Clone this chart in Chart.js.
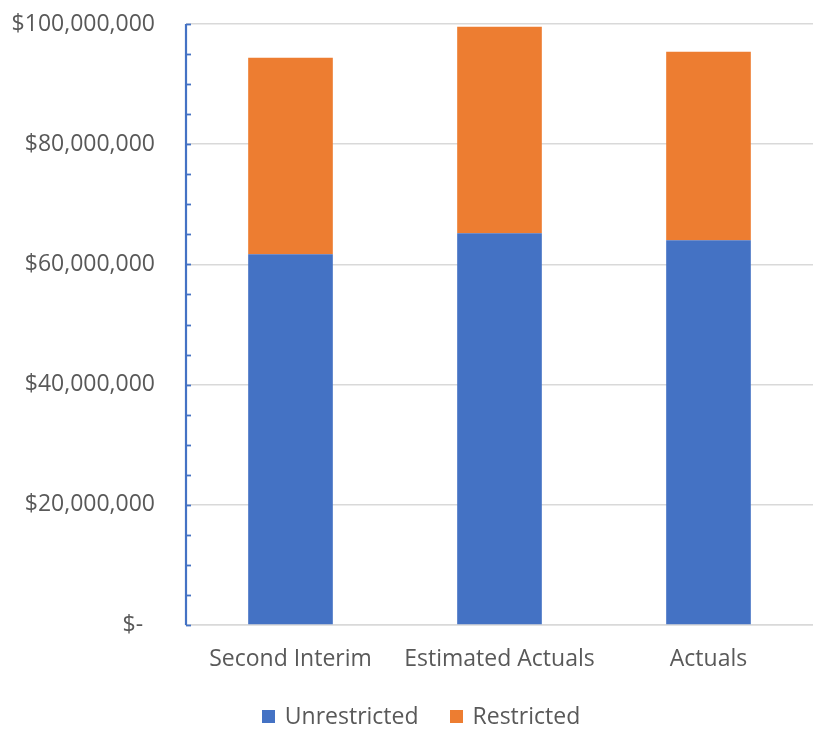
<!DOCTYPE html>
<html>
<head>
<meta charset="utf-8">
<script src="https://cdn.jsdelivr.net/npm/chart.js@4"></script>
<style>
  html, body { margin: 0; padding: 0; background: #ffffff; }
  #wrap { width: 813px; height: 735px; position: relative; }
</style>
</head>
<body>
<div id="wrap"><canvas id="chart"></canvas></div>
<script>
// Funding by source, in dollars
const categories = ['Second Interim', 'Estimated Actuals', 'Actuals'];
const unrestricted = [61700000, 65200000, 64000000];
const restricted = [32700000, 34350000, 31400000];
const seriesNames = ['Unrestricted', 'Restricted'];
const yTicks = [0, 20000000, 40000000, 60000000, 80000000, 100000000];

const FONT = '"Open Sans", "Noto Sans", sans-serif';
const TEXT = '#595959';
const AXIS_BLUE = '#4472C4';

function money(v) {
  if (v === 0) return '$-  ';
  return '$' + v.toLocaleString('en-US');
}

// Value axis line with small inward tick marks every 5 million
const minorTicks = {
  id: 'minorTicks',
  afterDatasetsDraw(chart) {
    const y = chart.scales.y;
    const x0 = chart.chartArea.left;
    const ctx = chart.ctx;
    ctx.save();
    ctx.strokeStyle = AXIS_BLUE;
    ctx.lineWidth = 1.8;
    for (let v = 0; v <= 100000000; v += 5000000) {
      const py = Math.round(y.getPixelForValue(v)) + 0.5;
      ctx.beginPath();
      ctx.moveTo(x0, py);
      ctx.lineTo(x0 + 5, py);
      ctx.stroke();
    }
    ctx.lineWidth = 2.2;
    ctx.beginPath();
    ctx.moveTo(x0, chart.chartArea.top);
    ctx.lineTo(x0, chart.chartArea.bottom);
    ctx.stroke();
    ctx.restore();
  }
};

// Legend row under the category labels, built from the datasets
const bottomLegend = {
  id: 'bottomLegend',
  afterDraw(chart) {
    const ctx = chart.ctx;
    const box = 13, gapText = 10, gapItem = 31;
    const cx = 421, cy = 716;
    ctx.save();
    ctx.font = '23px ' + FONT;
    ctx.textBaseline = 'middle';
    ctx.textAlign = 'left';
    const items = chart.data.datasets.map(ds => ({
      text: ds.label, color: ds.backgroundColor, w: ctx.measureText(ds.label).width
    }));
    let total = 0;
    items.forEach((it, i) => { total += box + gapText + it.w + (i ? gapItem : 0); });
    let x = cx - total / 2;
    items.forEach(it => {
      ctx.fillStyle = it.color;
      ctx.fillRect(Math.round(x), Math.round(cy - box / 2), box, box);
      ctx.fillStyle = TEXT;
      ctx.fillText(it.text, x + box + gapText, cy + 1);
      x += box + gapText + it.w + gapItem;
    });
    ctx.restore();
  }
};

new Chart(document.getElementById('chart'), {
  type: 'bar',
  data: {
    labels: categories,
    datasets: [
      { label: seriesNames[0], data: unrestricted, backgroundColor: '#4472C4' },
      { label: seriesNames[1], data: restricted, backgroundColor: '#ED7D31' }
    ]
  },
  options: {
    responsive: true,
    maintainAspectRatio: false,
    animation: false,
    layout: { padding: { top: 24, right: 0, bottom: 60, left: 0 } },
    datasets: {
      bar: { categoryPercentage: 1.0, barPercentage: 0.405 }
    },
    scales: {
      x: {
        stacked: true,
        grid: { display: false, drawTicks: false },
        border: { display: true, color: '#d9d9d9', width: 1.5 },
        ticks: { color: TEXT, font: { family: FONT, size: 23 }, padding: 21 },
        afterFit(scale) { scale.height = 50; }
      },
      y: {
        stacked: true,
        min: 0,
        max: 100000000,
        afterBuildTicks(scale) { scale.ticks = yTicks.map(v => ({ value: v })); },
        afterFit(scale) { scale.width = 186; },
        grid: {
          color: '#d9d9d9', lineWidth: 1.5,
          drawTicks: true, tickLength: 31, tickColor: 'rgba(0,0,0,0)'
        },
        border: { display: false },
        ticks: {
          color: TEXT,
          font: { family: FONT, size: 23 },
          padding: 0,
          callback: (v) => money(v)
        }
      }
    },
    plugins: {
      legend: { display: false },
      tooltip: { enabled: false }
    }
  },
  plugins: [minorTicks, bottomLegend]
});
</script>
</body>
</html>
